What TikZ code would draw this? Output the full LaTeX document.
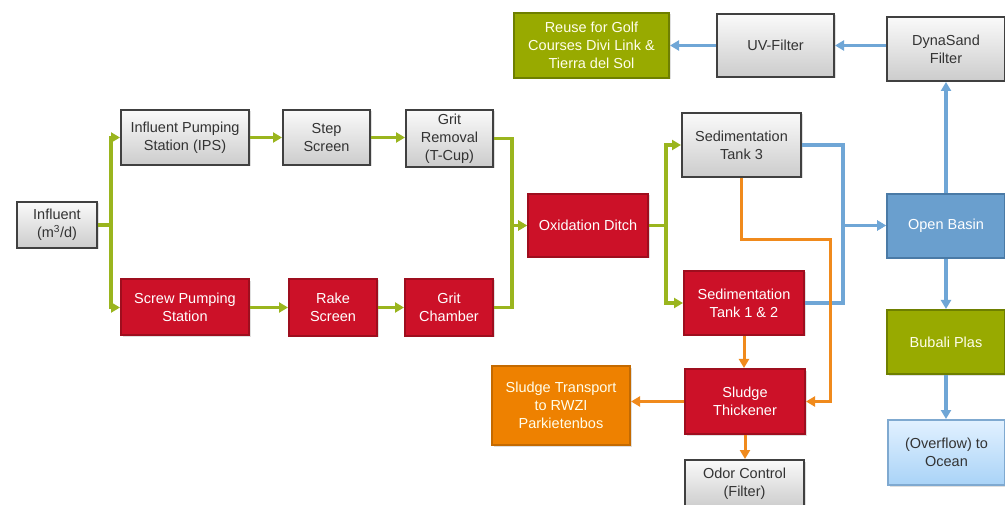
\documentclass[tikz,border=0pt]{standalone}
\usepackage{fontspec}
\setmainfont{Liberation Sans}
\usetikzlibrary{arrows.meta,shadows}
\definecolor{redF}{HTML}{CC1128}
\definecolor{redD}{HTML}{9E0E1E}
\definecolor{oliveF}{HTML}{98AA00}
\definecolor{oliveD}{HTML}{6E7F00}
\definecolor{orangeF}{HTML}{EE8100}
\definecolor{orangeD}{HTML}{C46A00}
\definecolor{basinF}{HTML}{6A9FCE}
\definecolor{basinD}{HTML}{4A7AA6}
\definecolor{ovTop}{HTML}{E2F1FF}
\definecolor{ovBot}{HTML}{A9D3F7}
\definecolor{ovD}{HTML}{7FA9D0}
\definecolor{gline}{HTML}{9AB51E}
\definecolor{bline}{HTML}{6FA6D6}
\definecolor{oline}{HTML}{F08A1C}
\definecolor{txtD}{HTML}{333333}
\begin{document}
\begin{tikzpicture}[x=1pt,y=-1pt,
  box/.style={draw, line width=2pt, align=center, inner sep=0pt,
    font=\fontsize{14.5}{18}\selectfont,
    drop shadow={opacity=0.25, shadow xshift=1.5pt, shadow yshift=-1.5pt}},
  graybox/.style={box, draw=black!75, top color=gray!4, bottom color=gray!40, text=txtD},
  redbox/.style={box, draw=redD, fill=redF, text=white},
  olivebox/.style={box, draw=oliveD, fill=oliveF, text=white!92!yellow},
  orangebox/.style={box, draw=orangeD, fill=orangeF, text=white!92!yellow},
  basinbox/.style={box, draw=basinD, fill=basinF, text=white},
  ovbox/.style={box, draw=ovD, top color=ovTop, bottom color=ovBot, text=txtD},
  sz/.style 2 args={minimum width=#1pt, minimum height=#2pt},
  garrow/.style={draw=gline, line width=3.2pt, -{Triangle[length=9pt,width=10pt]}},
  barrow/.style={draw=bline, line width=3.2pt, -{Triangle[length=9pt,width=10pt]}},
  oarrow/.style={draw=oline, line width=3pt, -{Triangle[length=9pt,width=10pt]}}
]
\useasboundingbox (0,0) rectangle (1005,505);
\fill[white] (0,0) rectangle (1005,505);

% nodes
\node[graybox, sz={80}{46}] (infl) at (57,225) {Influent\\(m\textsuperscript{3}/d)};
\node[graybox, sz={128}{55}] (ips) at (185,137.5) {Influent Pumping\\Station (IPS)};
\node[graybox, sz={87}{55}] (step) at (326.5,137.5) {Step\\Screen};
\node[graybox, sz={87}{57}] (grit1) at (449.5,138.5) {Grit\\Removal\\(T-Cup)};
\node[redbox, sz={128}{56}] (screw) at (185,307.5) {Screw Pumping\\Station};
\node[redbox, sz={88}{57}] (rake) at (333,307.5) {Rake\\Screen};
\node[redbox, sz={88}{57}] (grit2) at (449,307.5) {Grit\\Chamber};
\node[redbox, sz={120}{63}] (oxid) at (588,225.5) {Oxidation Ditch};
\node[graybox, sz={119}{64}] (sed3) at (741.5,145) {Sedimentation\\Tank 3};
\node[redbox, sz={120}{64}] (sed12) at (744,303) {Sedimentation\\Tank 1 \& 2};
\node[redbox, sz={120}{65}] (thick) at (745,401.5) {Sludge\\Thickener};
\node[orangebox, sz={138}{79}] (trans) at (561,405.5) {Sludge Transport\\to RWZI\\Parkietenbos};
\node[graybox, sz={119}{48}] (odor) at (744.5,484) {Odor Control\\(Filter)};
\node[olivebox, sz={155}{65}] (reuse) at (591.5,45.5) {Reuse for Golf\\Courses Divi Link \&\\Tierra del Sol};
\node[graybox, sz={117}{63}] (uv) at (775.5,45.5) {UV-Filter};
\node[graybox, sz={118}{64}] (dyna) at (946,49) {DynaSand\\Filter};
\node[basinbox, sz={118}{64}] (basin) at (946,226) {Open Basin};
\node[olivebox, sz={118}{64}] (bubali) at (946,342) {Bubali Plas};
\node[ovbox, sz={117}{65}] (ocean) at (946.5,452.5) {(Overflow) to\\Ocean};

% green connectors
\draw[garrow] (infl.east) -- ++(13,0) |- (ips.west);
\draw[garrow] (infl.east) -- ++(13,0) |- (screw.west);
\draw[garrow] (ips.east) -- (step.west);
\draw[garrow] (step.east) -- (step.east -| grit1.west);
\draw[garrow] (screw.east) -- (screw.east -| rake.west);
\draw[garrow] (rake.east) -- (grit2.west);
\draw[garrow] (grit1.east) -- ++(18,0) |- (oxid.west);
\draw[garrow] (grit2.east) -- ++(18,0) |- (oxid.west);
\draw[garrow] (oxid.east) -- ++(17,0) |- (sed3.west);
\draw[garrow] (oxid.east) -- ++(17,0) |- (sed12.west);

% blue connectors
\coordinate (bj) at (843,225.5);
\draw[barrow] (sed3.east) -| (bj) -- (bj -| basin.west);
\draw[barrow] (sed12.east) -| (bj) -- (bj -| basin.west);
\draw[barrow] (basin.north) -- (dyna.south);
\draw[barrow] (dyna.west |- uv.east) -- (uv.east);
\draw[barrow] (uv.west) -- (reuse.east);
\draw[barrow] (basin.south) -- (bubali.north);
\draw[barrow] (bubali.south) -- (bubali.south |- ocean.north);

% orange connectors
\coordinate (oj) at (830,240);
\draw[oarrow] (sed3.south) |- (oj) |- (thick.east);
\draw[oarrow] (sed12.south) -- (sed12.south |- thick.north);
\draw[oarrow] (thick.west) -- (thick.west -| trans.east);
\draw[oarrow] (thick.south) -- (thick.south |- odor.north);
\end{tikzpicture}
\end{document}
